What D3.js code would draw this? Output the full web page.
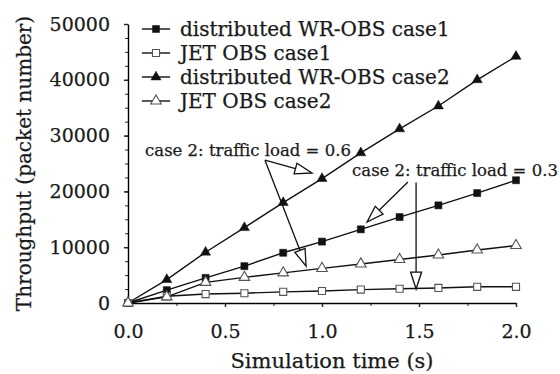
<!DOCTYPE html>
<html>
<head>
<meta charset="utf-8">
<script src="https://cdn.jsdelivr.net/npm/d3@7"></script>
<style>
  html, body { margin: 0; padding: 0; background: #fff; }
  svg text { font-family: "DejaVu Serif", serif; fill: #1a1a1a; stroke: #1a1a1a; stroke-width: 0.25px; }
</style>
</head>
<body>
<div id="chart"></div>
<script>
// x values (simulation time, s)
const times = [0, 0.2, 0.4, 0.6, 0.8, 1.0, 1.2, 1.4, 1.6, 1.8, 2.0]

// throughput (packet number) per series
const wrCase1 = [0, 2300, 4500, 6600, 9000, 11000, 13200, 15400, 17500, 19700, 22000]
const jetCase1 = [0, 1200, 1600, 1750, 2000, 2150, 2400, 2550, 2700, 2900, 2900]
const wrCase2 = [0, 4200, 9100, 13500, 18000, 22300, 26900, 31200, 35300, 40000, 44200]
const jetCase2 = [0, 1100, 3700, 4600, 5400, 6200, 7000, 7800, 8600, 9500, 10300]

const seriesNames = ["distributed WR-OBS case1", "JET OBS case1", "distributed WR-OBS case2", "JET OBS case2"]

const xTicks = [0, 0.5, 1.0, 1.5, 2.0]
const yTicks = [0, 10000, 20000, 30000, 40000, 50000]

// annotations, in data units
const notes = [
  { text: "case 2: traffic load = 0.6", x: 0.088, y: 26400,
    arrows: [[0.706, 25600, 0.948, 23300], [0.706, 25600, 0.918, 6600]] },
  { text: "case 2: traffic load = 0.3", x: 1.155, y: 22700,
    arrows: [[1.443, 21700, 1.232, 14500], [1.485, 21600, 1.485, 2500]] }
]

const width = 560
const height = 374
const margin = { top: 24, right: 44, bottom: 71, left: 128 }

const svg = d3.select("#chart").append("svg")
  .attr("width", width)
  .attr("height", height)

const x = d3.scaleLinear().domain([0, 2]).range([margin.left, width - margin.right])
const y = d3.scaleLinear().domain([0, 50000]).range([height - margin.bottom, margin.top])

// minor ticks first
svg.append("g")
  .attr("transform", `translate(0,${y(0)})`)
  .call(d3.axisBottom(x).tickValues(d3.range(0, 2.01, 0.25)).tickSize(3).tickFormat(""))
  .call(g => g.select(".domain").remove())
svg.append("g")
  .attr("transform", `translate(${x(0)},0)`)
  .call(d3.axisLeft(y).tickValues(d3.range(0, 50001, 2500)).tickSize(3).tickFormat(""))
  .call(g => g.select(".domain").remove())

// main axes
svg.append("g")
  .attr("transform", `translate(0,${y(0)})`)
  .call(d3.axisBottom(x).tickValues(xTicks).tickFormat(d3.format(".1f")).tickSize(4).tickSizeOuter(0).tickPadding(18))
  .call(g => g.selectAll("text").attr("font-size", 19).attr("font-family", null))
  .call(g => g.selectAll("line, path").attr("stroke-width", 1.4))

svg.append("g")
  .attr("transform", `translate(${x(0)},0)`)
  .call(d3.axisLeft(y).tickValues(yTicks).tickFormat(d3.format("d")).tickSize(4).tickSizeOuter(0).tickPadding(14))
  .call(g => g.selectAll("text").attr("font-size", 19).attr("font-family", null))
  .call(g => g.selectAll("line, path").attr("stroke-width", 1.4))

svg.selectAll(".tick line").attr("stroke", "#222")

// axis titles
svg.append("text")
  .attr("x", (x(0) + x(2)) / 2 + 10)
  .attr("y", height - 6)
  .attr("text-anchor", "middle")
  .attr("font-size", 21)
  .text("Simulation time (s)")

svg.append("text")
  .attr("transform", `translate(31,${(y(0) + y(50000)) / 2}) rotate(-90)`)
  .attr("text-anchor", "middle")
  .attr("font-size", 20)
  .text("Throughput (packet number)")

// series
const series = [
  { values: wrCase1, symbol: d3.symbolSquare, size: 50, filled: true },
  { values: jetCase1, symbol: d3.symbolSquare, size: 50, filled: false },
  { values: wrCase2, symbol: d3.symbolTriangle, size: 44, filled: true },
  { values: jetCase2, symbol: d3.symbolTriangle, size: 48, filled: false }
]

const line = d3.line().x((d, i) => x(times[i])).y(d => y(d))

series.forEach(s => {
  svg.append("path")
    .attr("d", line(s.values))
    .attr("fill", "none")
    .attr("stroke", "#111")
    .attr("stroke-width", 1.4)
})

function drawMarker(g, s, cx, cy) {
  g.append("path")
    .attr("d", d3.symbol().type(s.symbol).size(s.size)())
    .attr("transform", `translate(${cx},${cy})`)
    .attr("fill", s.filled ? "#111" : "#fff")
    .attr("stroke", s.filled ? "#111" : "#555")
    .attr("stroke-width", s.filled ? 0.5 : 1.1)
}

series.forEach(s => {
  const g = svg.append("g")
  s.values.forEach((v, i) => drawMarker(g, s, x(times[i]), y(v)))
})

// legend
const legend = svg.append("g")
seriesNames.forEach((name, i) => {
  const ly = 29 + i * 24
  legend.append("line")
    .attr("x1", 142).attr("x2", 170)
    .attr("y1", ly).attr("y2", ly)
    .attr("stroke", "#111")
    .attr("stroke-width", 1.4)
  drawMarker(legend, series[i], 156, ly)
  legend.append("text")
    .attr("x", 180)
    .attr("y", ly)
    .attr("dy", "0.35em")
    .attr("font-size", 20)
    .text(name)
})

// annotations with open arrowheads
function arrow(g, x1, y1, x2, y2) {
  const ang = Math.atan2(y2 - y1, x2 - x1)
  const len = 17
  const half = 5.5
  const bx = x2 - Math.cos(ang) * len
  const by = y2 - Math.sin(ang) * len
  g.append("line")
    .attr("x1", x1).attr("y1", y1)
    .attr("x2", bx).attr("y2", by)
    .attr("stroke", "#111")
    .attr("stroke-width", 1.3)
  const px = -Math.sin(ang) * half
  const py = Math.cos(ang) * half
  g.append("path")
    .attr("d", `M${x2},${y2}L${bx + px},${by + py}L${bx - px},${by - py}Z`)
    .attr("fill", "#fff")
    .attr("stroke", "#111")
    .attr("stroke-width", 1.3)
}

notes.forEach(n => {
  const g = svg.append("g")
  n.arrows.forEach(a => arrow(g, x(a[0]), y(a[1]), x(a[2]), y(a[3])))
  g.append("text")
    .attr("x", x(n.x))
    .attr("y", y(n.y))
    .attr("font-size", 16.5)
    .text(n.text)
})
</script>
</body>
</html>
